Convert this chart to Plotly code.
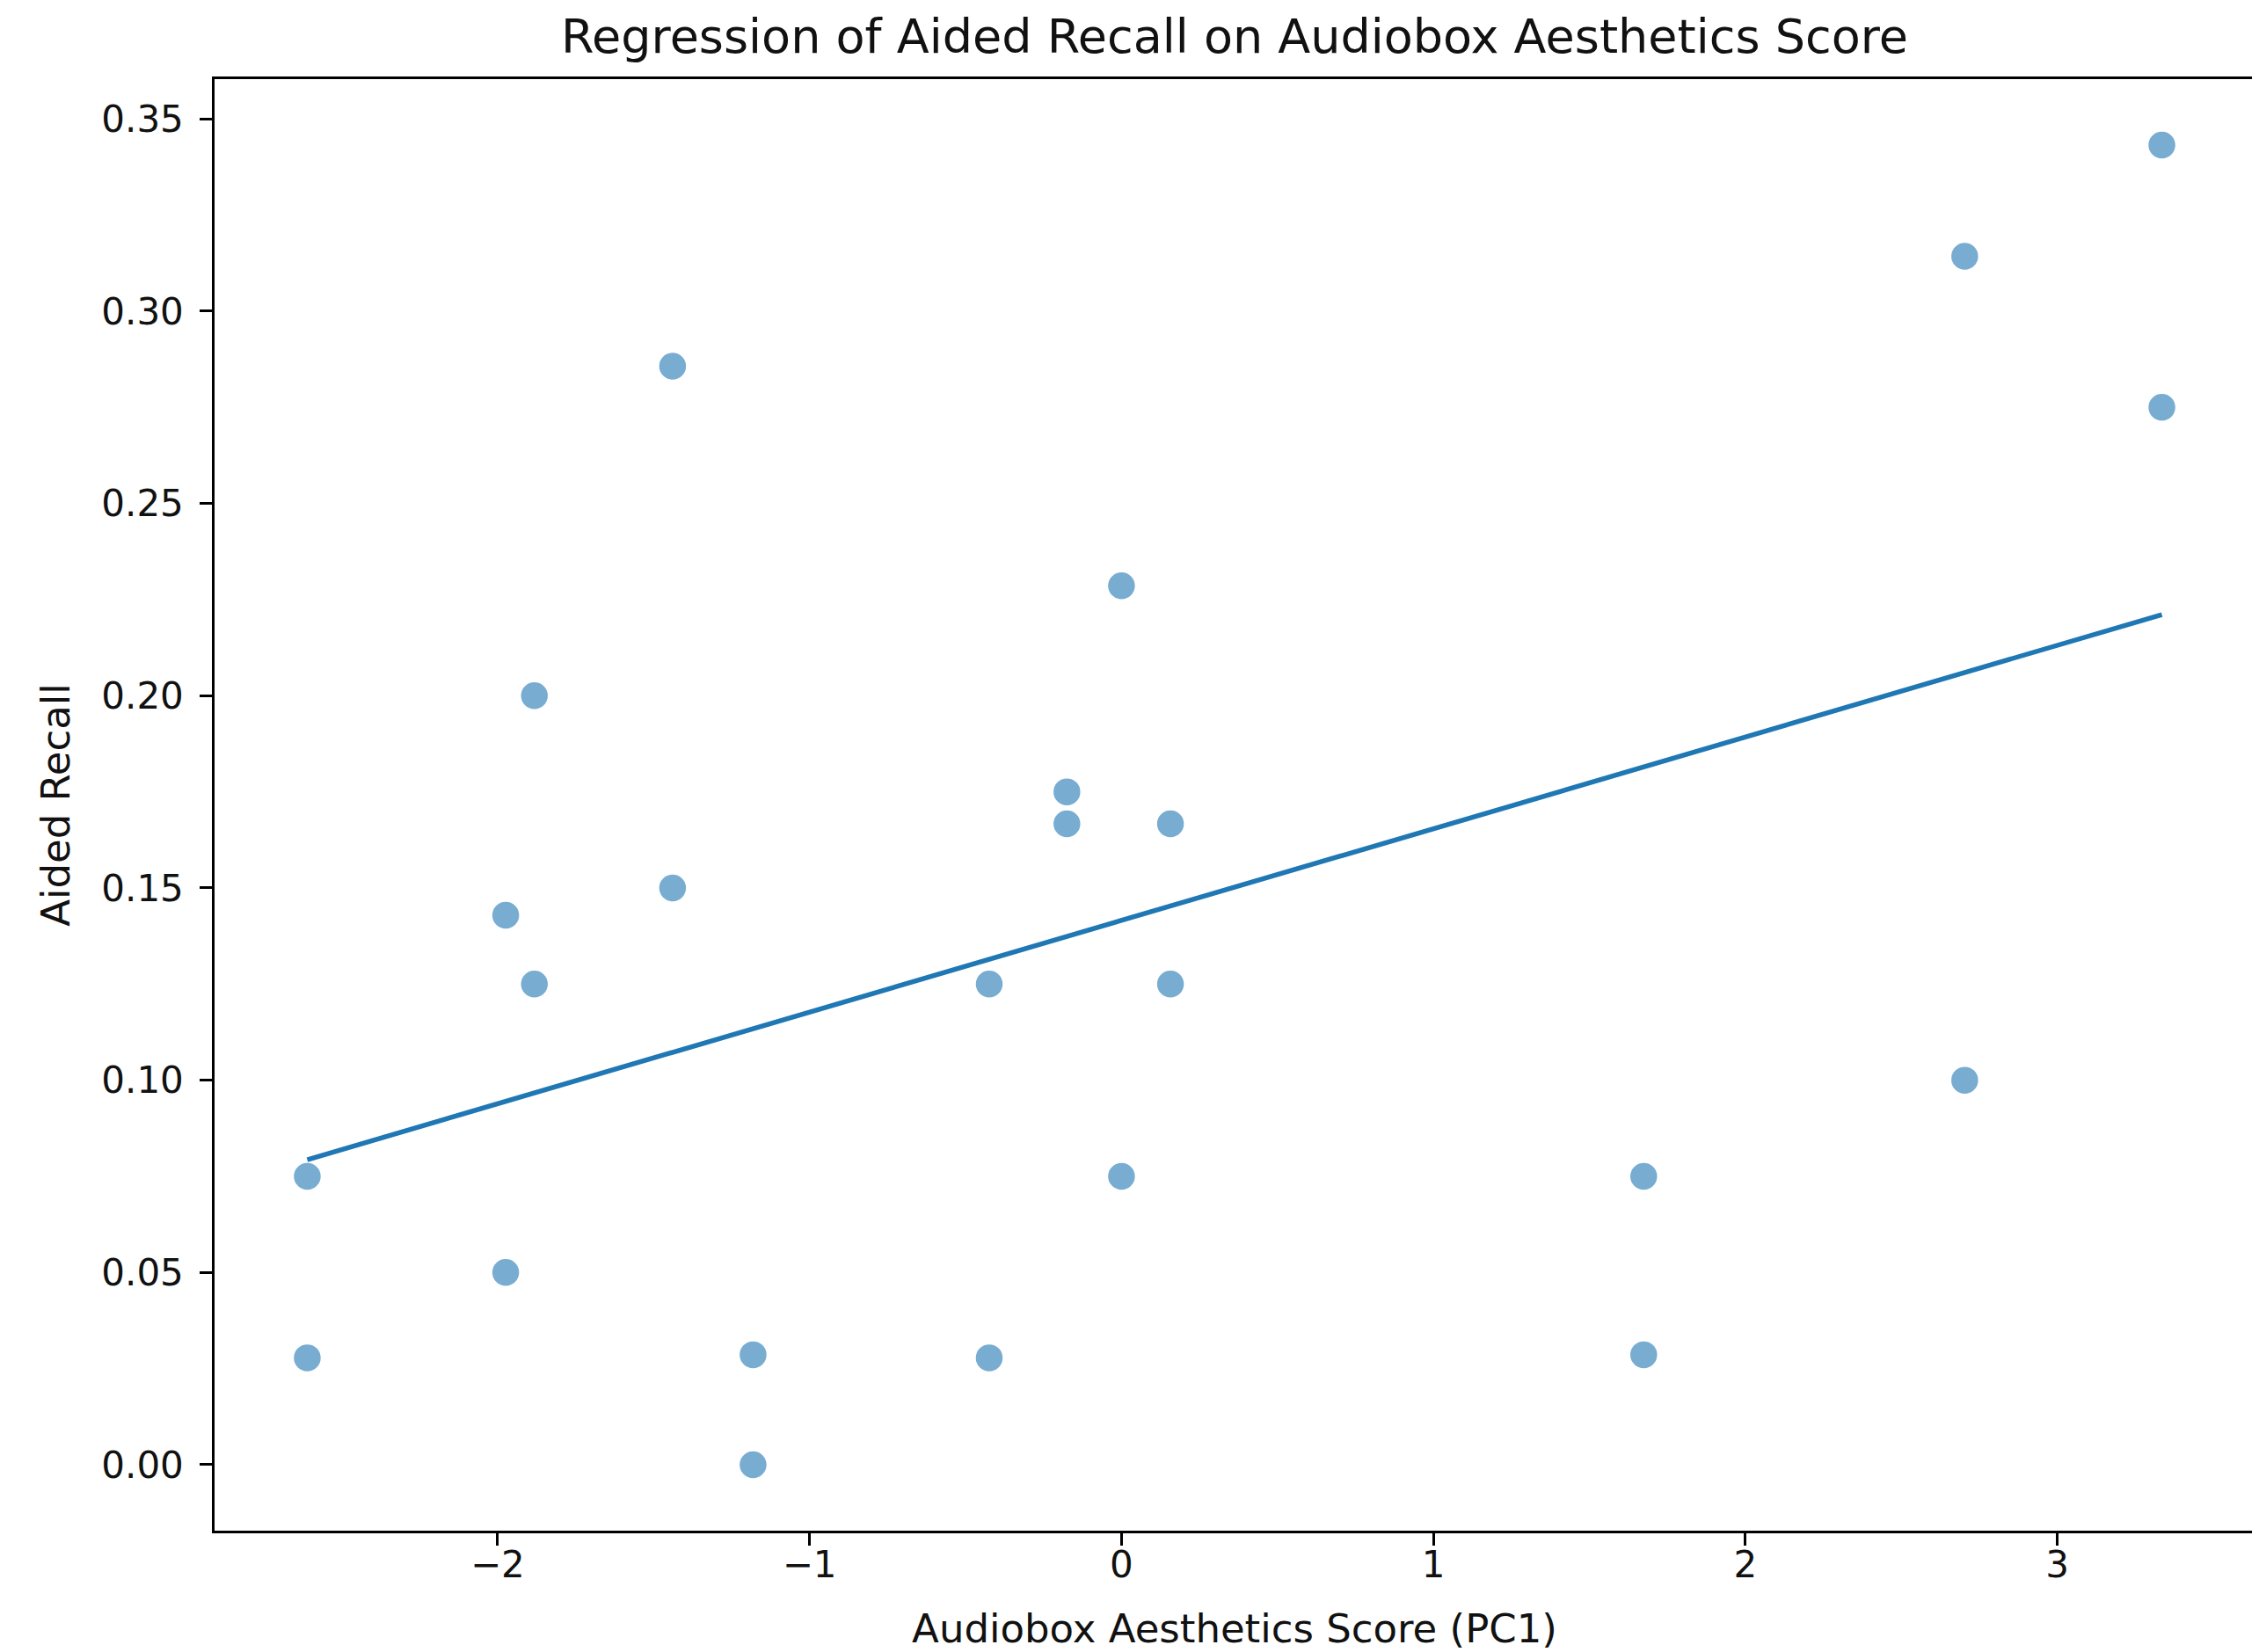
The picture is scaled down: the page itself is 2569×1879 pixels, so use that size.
import numpy as np
import plotly.graph_objects as go

# Data
pc1_score = [-2.61, -2.61, -1.974, -1.974, -1.882, -1.882, -1.439, -1.439,
             -1.181, -1.181, -0.424, -0.424, -0.175, -0.175, 0.0, 0.0,
             0.157, 0.157, 1.674, 1.674, 2.703, 2.703, 3.335, 3.335]
aided_recall = [0.075, 0.0278, 0.1429, 0.05, 0.2, 0.125, 0.2857, 0.15,
                0.0286, 0.0, 0.125, 0.0278, 0.175, 0.1667, 0.2286, 0.075,
                0.1667, 0.125, 0.075, 0.0286, 0.3143, 0.1, 0.3432, 0.275]

x_ticks = [-2, -1, 0, 1, 2, 3]
x_tick_labels = ["\u22122", "\u22121", "0", "1", "2", "3"]
y_ticks = [0.0, 0.05, 0.10, 0.15, 0.20, 0.25, 0.30, 0.35]
y_tick_labels = ["0.00", "0.05", "0.10", "0.15", "0.20", "0.25", "0.30", "0.35"]

x = np.array(pc1_score)
y = np.array(aided_recall)
slope, intercept = np.polyfit(x, y, 1)
x_line = np.sort(x)
y_line = slope * x_line + intercept

# matplotlib-like autoscale margins (5%)
xr = x.max() - x.min()
yr = y.max() - y.min()
x_range = [x.min() - 0.05 * xr, x.max() + 0.05 * xr]
y_range = [y.min() - 0.05 * yr, y.max() + 0.05 * yr]

# page body has an 8px default margin, so the figure is slightly smaller
W, H = 2561, 1871
FONT = "DejaVu Sans"

fig = go.Figure()
fig.add_trace(go.Scatter(
    x=pc1_score, y=aided_recall, mode="markers",
    marker=dict(size=29, color="#1f77b4", opacity=0.6,
                line=dict(width=1.5, color="#1f77b4")),
    showlegend=False))
fig.add_trace(go.Scatter(
    x=x_line, y=y_line, mode="lines",
    line=dict(color="#1f77b4", width=5.5),
    showlegend=False))

axis_common = dict(
    showgrid=False, zeroline=False, showline=True, mirror=True,
    linecolor="black", linewidth=2.5,
    ticks="outside", ticklen=14, tickwidth=2.5, tickcolor="black",
    tickfont=dict(family=FONT, size=42, color="#111"),
)

fig.update_layout(
    width=W, height=H,
    paper_bgcolor="white", plot_bgcolor="white",
    margin=dict(l=236, r=5, t=82, b=138, autoexpand=False),
    title=dict(text="Regression of Aided Recall on Audiobox Aesthetics Score",
               font=dict(family=FONT, size=54, color="#111"),
               x=0.5, xref="paper", xanchor="center",
               y=1 - 33 / H, yref="container", yanchor="middle"),
    xaxis=dict(range=x_range, tickvals=x_ticks, ticktext=x_tick_labels,
               ticklabelstandoff=-14,
               title=dict(text="Audiobox Aesthetics Score (PC1)",
                          font=dict(family=FONT, size=45, color="#111"),
                          standoff=34),
               automargin=False, **axis_common),
    yaxis=dict(range=y_range, tickvals=y_ticks, ticktext=y_tick_labels,
               ticklabelstandoff=10,
               title=dict(text="Aided Recall",
                          font=dict(family=FONT, size=45, color="#111"),
                          standoff=22),
               automargin=False, **axis_common),
)

fig.write_html("out.html")
